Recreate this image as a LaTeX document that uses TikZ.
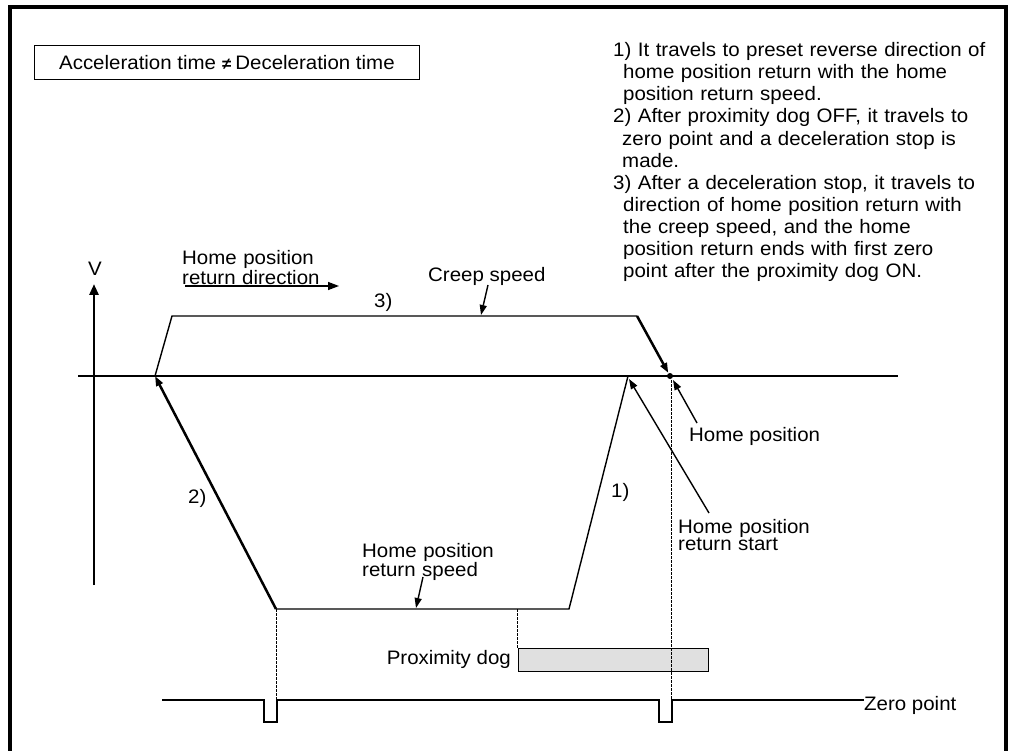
\documentclass[tikz,border=0pt]{standalone}
\usepackage{fontspec}
\setmainfont[FakeStretch=1.05]{Liberation Sans}
\usetikzlibrary{arrows.meta}
\begin{document}
\begin{tikzpicture}[x=1pt,y=-1pt,
  lbl/.style={inner sep=0pt, anchor=base west, font=\fontsize{19.5}{17.5}\selectfont},
  lbltwo/.style={lbl, text width=220pt, align=left},
  notes/.style={inner sep=0pt, anchor=base west, text width=390pt, align=left, font=\fontsize{19.5}{22.1}\selectfont},
  arr/.style={-{Triangle[length=10pt,width=7pt]}},
  thinline/.style={line width=1.4pt},
  heavyline/.style={line width=2.5pt},
  axisline/.style={line width=2.7pt},
  dashline/.style={line width=0.9pt, dash pattern=on 2.5pt off 1.5pt},
  line join=miter]
\useasboundingbox (0,0) rectangle (1009,751);
% frame
\draw[line width=4pt] (10,751) -- (10,7) -- (1006,7) -- (1006,751);

% condition box
\node[draw, line width=0.8pt, minimum width=385pt, minimum height=34pt, inner sep=0pt,
      anchor=north west, font=\fontsize{19.5}{22}\selectfont] (accel) at (34,45)
  {Acceleration time\hspace{6pt}{\fontsize{16}{16}\selectfont\bfseries ≠}\hspace{4pt}Deceleration time};

% explanation
\node[notes] (notes) at (613,56.7) {1) It travels to preset reverse direction of\\
\hspace*{10pt}home position return with the home\\
\hspace*{10pt}position return speed.\\
2) After proximity dog OFF, it travels to\\
\hspace*{9pt}zero point and a deceleration stop is\\
\hspace*{9pt}made.\\
3) After a deceleration stop, it travels to\\
\hspace*{10pt}direction of home position return with\\
\hspace*{10pt}the creep speed, and the home\\
\hspace*{10pt}position return ends with first zero\\
\hspace*{10pt}point after the proximity dog ON.};

% axes
\coordinate (hL) at (78,376);
\coordinate (hR) at (898,376);
\coordinate (vB) at (94,585);
\coordinate (vT) at (94,284);
\draw[axisline] (hL) -- (hR);
\draw[axisline, -{Triangle[length=11pt,width=9pt]}] (vB) -- (vT);
\node[lbl, anchor=base] (vlab) at (95,276) {V};

% speed profile
\coordinate (A) at (155,376);
\coordinate (B) at (172,316);
\coordinate (C) at (637,316);
\coordinate (D) at (670,376);
\coordinate (E) at (276,609);
\coordinate (F) at (569,609);
\coordinate (G) at (628,376);
\draw[thinline] (A) -- (B) -- (C);
\draw[heavyline, arr, shorten >=3.5pt] (C) -- (D);
\fill (D) circle (3pt);
\draw[heavyline, arr] (E) -- (A);
\draw[thinline] (E) -- (F) -- (G);

% direction label
\node[lbltwo] (dirlab) at (182,265) {Home position\\return direction};
\coordinate (dirS) at (185,286);
\coordinate (dirE) at (339,286);
\draw[thinline, -{Triangle[length=11pt,width=8pt]}] (dirS) -- (dirE);

% step labels
\node[lbl] (s3) at (374,307) {3)};
\node[lbl] (s2) at (188,503) {2)};
\node[lbl] (s1) at (611,497) {1)};

% creep speed
\node[lbl] (creep) at (428,282) {Creep speed};
\coordinate (creepS) at (488,285);
\coordinate (creepT) at (481,315);
\draw[thinline, arr] (creepS) -- (creepT);

% home position
\node[lbl] (hp) at (689,441) {Home position};
\coordinate (hpS) at (697,423);
\coordinate (hpT) at (673,380);
\draw[thinline, arr] (hpS) -- (hpT);

% home position return start
\node[lbltwo] (hprs) at (678,533) {Home position\\return start};
\coordinate (hprsS) at (709,513);
\coordinate (hprsT) at (629,379);
\draw[thinline, arr] (hprsS) -- (hprsT);

% home position return speed
\node[lbltwo] (hprsp) at (362,557) {Home position\\return speed};
\coordinate (spS) at (423,577);
\coordinate (spT) at (416,608);
\draw[thinline, arr] (spS) -- (spT);

% proximity dog
\node[draw, line width=1.2pt, fill=black!12, inner sep=0pt, minimum width=190pt,
      minimum height=23pt, anchor=north west] (dog) at (517.5,648) {};
\node[lbl, anchor=base east] (doglab) at (511,664) {Proximity dog};

% zero point signal
\coordinate (z0) at (162,700);
\coordinate (z1) at (264,700);
\coordinate (z2) at (264,722);
\coordinate (z3) at (277,722);
\coordinate (z4) at (277,700);
\coordinate (z5) at (659,700);
\coordinate (z6) at (659,722);
\coordinate (z7) at (672,722);
\coordinate (z8) at (672,700);
\coordinate (z9) at (864,700);
\draw[heavyline] (z0) -- (z1) -- (z2) -- (z3) -- (z4) -- (z5) -- (z6) -- (z7) -- (z8) -- (z9);
\node[lbl] (zlab) at (864,710) {Zero point};

% dashed guides
\coordinate (dA) at (276,609);
\coordinate (dB) at (276,700);
\coordinate (dC) at (517.5,609);
\coordinate (dD) at (517.5,648);
\coordinate (dE) at (671.5,380);
\coordinate (dF) at (671.5,700);
\draw[dashline] (dA) -- (dB);
\draw[dashline] (dC) -- (dD);
\draw[dashline] (dE) -- (dF);
\end{tikzpicture}
\end{document}
